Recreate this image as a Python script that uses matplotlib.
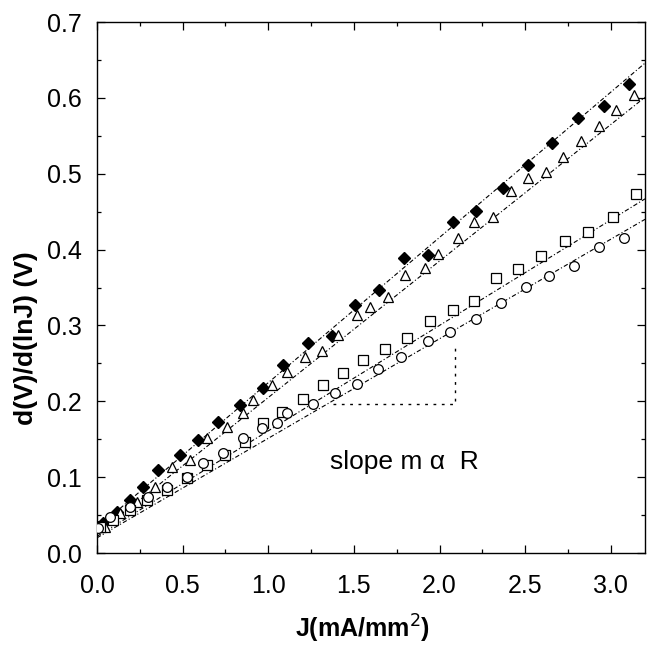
import matplotlib
matplotlib.use('Agg')
import matplotlib.pyplot as plt
import numpy as np

plt.rcParams['font.family'] = ['Liberation Sans', 'DejaVu Sans']

# filled symbols (top series)
j_filled = [0.006, 0.035, 0.117, 0.193, 0.269, 0.357, 0.485, 0.591, 0.708, 0.836,
            0.971, 1.088, 1.234, 1.374, 1.509, 1.649, 1.795, 1.930, 2.076, 2.211,
            2.368, 2.515, 2.655, 2.807, 2.959, 3.105]
v_filled = [0.034, 0.040, 0.054, 0.070, 0.087, 0.109, 0.129, 0.149, 0.173, 0.195,
            0.218, 0.248, 0.277, 0.286, 0.327, 0.347, 0.389, 0.393, 0.436, 0.451,
            0.481, 0.511, 0.540, 0.573, 0.590, 0.618]

# open triangles
j_tri = [0.047, 0.135, 0.234, 0.339, 0.439, 0.544, 0.643, 0.760, 0.854, 0.912,
         1.023, 1.111, 1.216, 1.316, 1.409, 1.520, 1.596, 1.702, 1.801, 1.918,
         1.994, 2.105, 2.199, 2.310, 2.415, 2.515, 2.620, 2.719, 2.825, 2.930,
         3.029, 3.135]
v_tri = [0.034, 0.053, 0.067, 0.087, 0.114, 0.123, 0.152, 0.166, 0.185, 0.202,
         0.222, 0.239, 0.258, 0.266, 0.288, 0.314, 0.325, 0.337, 0.367, 0.376,
         0.394, 0.416, 0.436, 0.443, 0.477, 0.495, 0.502, 0.522, 0.543, 0.563,
         0.584, 0.604]

# open squares
j_sq = [0.018, 0.094, 0.193, 0.292, 0.409, 0.526, 0.643, 0.749, 0.865, 0.971,
        1.082, 1.205, 1.322, 1.439, 1.556, 1.684, 1.813, 1.942, 2.076, 2.199,
        2.327, 2.456, 2.591, 2.731, 2.865, 3.012, 3.146]
v_sq = [0.034, 0.044, 0.057, 0.070, 0.083, 0.099, 0.116, 0.129, 0.147, 0.172,
        0.186, 0.203, 0.221, 0.238, 0.255, 0.269, 0.283, 0.306, 0.320, 0.332,
        0.363, 0.374, 0.391, 0.411, 0.423, 0.443, 0.474]

# open circles
j_circ = [0.006, 0.076, 0.193, 0.298, 0.409, 0.526, 0.620, 0.737, 0.854, 0.965,
          1.053, 1.111, 1.263, 1.392, 1.520, 1.643, 1.778, 1.930, 2.064, 2.211,
          2.357, 2.503, 2.637, 2.784, 2.930, 3.076]
v_circ = [0.033, 0.048, 0.061, 0.074, 0.087, 0.100, 0.119, 0.132, 0.152, 0.165,
          0.172, 0.185, 0.196, 0.211, 0.223, 0.242, 0.259, 0.280, 0.291, 0.308,
          0.330, 0.351, 0.365, 0.378, 0.403, 0.416]

# linear fits (end points)
fit_j = [0.0, 3.2]
fit_filled = [0.033, 0.646]
fit_tri = [0.025, 0.601]
fit_sq = [0.022, 0.467]
fit_circ = [0.020, 0.440]

# slope triangle
tri_j = [1.38, 2.09, 2.09]
tri_v = [0.197, 0.197, 0.277]

fig = plt.figure(figsize=(6.54, 6.49), dpi=100)
ax = fig.add_axes([0.1483, 0.1479, 0.838, 0.818])

fit_style = dict(color='black', linewidth=0.8, linestyle=(0, (4, 2, 1, 2)), zorder=2)
for fy in (fit_filled, fit_tri, fit_sq, fit_circ):
    ax.plot(fit_j, fy, **fit_style)

ax.plot(j_filled, v_filled, linestyle='none', marker='D', markersize=6,
        markerfacecolor='black', markeredgecolor='black', zorder=3)
ax.plot(j_tri, v_tri, linestyle='none', marker='^', markersize=7.5,
        markerfacecolor='white', markeredgecolor='black', markeredgewidth=0.9, zorder=3)
ax.plot(j_sq, v_sq, linestyle='none', marker='s', markersize=6.5,
        markerfacecolor='white', markeredgecolor='black', markeredgewidth=0.9, zorder=3)
ax.plot(j_circ, v_circ, linestyle='none', marker='o', markersize=7,
        markerfacecolor='white', markeredgecolor='black', markeredgewidth=0.9, zorder=3)

ax.plot(tri_j, tri_v, color='black', linewidth=1.0, linestyle=(0, (2, 4)))

ax.text(1.36, 0.12, 'slope m \u03b1  R', fontsize=19, ha='left', va='center')

ax.set_xlim(0, 3.2)
ax.set_ylim(0, 0.7)
ax.set_xticks(np.arange(0, 3.01, 0.5))
ax.set_yticks(np.arange(0, 0.71, 0.1))
ax.set_xticks(np.arange(0.25, 3.2, 0.5), minor=True)
ax.set_yticks(np.arange(0.05, 0.7, 0.1), minor=True)
ax.set_xticklabels(['0.0', '0.5', '1.0', '1.5', '2.0', '2.5', '3.0'])
ax.set_yticklabels(['0.0', '0.1', '0.2', '0.3', '0.4', '0.5', '0.6', '0.7'])
ax.tick_params(which='both', direction='in', top=True, right=True, labelsize=18, width=0.9)
ax.tick_params(which='major', length=6)
ax.tick_params(which='minor', length=3)
ax.tick_params(axis='x', pad=15)
ax.tick_params(axis='y', pad=11)
for s in ax.spines.values():
    s.set_linewidth(1.0)

ax.set_xlabel('J(mA/mm$^2$)', fontsize=18, fontweight='bold', va='top')
ax.xaxis.set_label_coords(0.484, -0.112)
ax.set_ylabel('d(V)/d(lnJ) (V)', fontsize=19, fontweight='bold')
ax.yaxis.set_label_coords(-0.108, 0.405)

fig.savefig('out.png', dpi=100)
